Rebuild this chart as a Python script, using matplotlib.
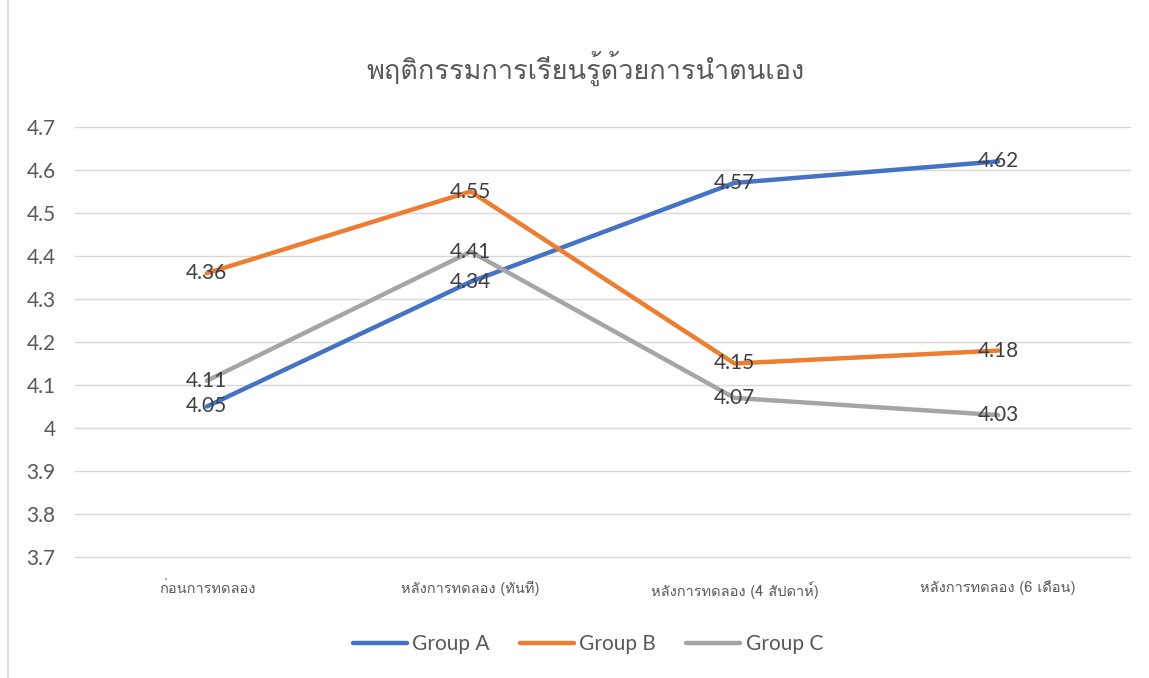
import matplotlib
matplotlib.use("Agg")
import matplotlib.pyplot as plt
from matplotlib import font_manager
from matplotlib.ft2font import FT2Font
from matplotlib.lines import Line2D

categories = ["ก่อนการทดลอง", "หลังการทดลอง (ทันที)", "หลังการทดลอง (4 สัปดาห์)", "หลังการทดลอง (6 เดือน)"]
group_a = [4.05, 4.34, 4.57, 4.62]
group_b = [4.36, 4.55, 4.15, 4.18]
group_c = [4.11, 4.41, 4.07, 4.03]
series_names = ["Group A", "Group B", "Group C"]
yticks = [3.7, 3.8, 3.9, 4.0, 4.1, 4.2, 4.3, 4.4, 4.5, 4.6, 4.7]
ytick_labels = ["3.7", "3.8", "3.9", "4", "4.1", "4.2", "4.3", "4.4", "4.5", "4.6", "4.7"]
title = "พฤติกรรมการเรียนรู้ด้วยการนำตนเอง"

# find a font with Thai glyphs
thai_family = None
for f in font_manager.fontManager.ttflist:
    try:
        ft = FT2Font(f.fname)
        if ft.get_char_index(0x0E01) and ft.get_char_index(0x0E32):
            thai_family = f.name
            break
    except Exception:
        pass
thai_fams = ([thai_family] if thai_family else []) + ["DejaVu Sans"]
num_fam = ["Lato", "DejaVu Sans"]

colors = ["#4472C4", "#ED7D31", "#A5A5A5"]
txt_col = "#595959"

fig = plt.figure(figsize=(11.49, 6.78), dpi=100)
ax = fig.add_axes([75/1149, 1-557/678, (1130-75)/1149, (557-127)/678])

x = list(range(len(categories)))
for vals, c, name in zip([group_a, group_b, group_c], colors, series_names):
    ax.plot(x, vals, color=c, lw=3.2, solid_capstyle="round", label=name, zorder=3)
for vals in [group_a, group_b, group_c]:
    for xi, v in zip(x, vals):
        ax.text(xi, v, f"{v:.2f}", ha="center", va="center", fontsize=15,
                color="#404040", family=num_fam, zorder=4)

ax.set_xlim(-0.5, len(categories) - 0.5)
ax.set_ylim(3.7, 4.7)
ax.set_yticks(yticks)
ax.set_yticklabels(ytick_labels, family=num_fam, fontsize=15, color=txt_col)
ax.set_xticks(x)
ax.set_xticklabels(categories, family=thai_fams, fontsize=10.5, color=txt_col)
ax.tick_params(axis="y", length=0, pad=14)
ax.tick_params(axis="x", length=0, pad=17)
ax.grid(axis="y", color="#D9D9D9", lw=1)
for gl in ax.get_ygridlines():
    gl.set_clip_on(False)
ax.set_axisbelow(True)
for s in ax.spines.values():
    s.set_visible(False)

fig.text(585/1149, 1-68/678, title, ha="center", va="center", fontsize=19.5,
         color=txt_col, family=thai_fams, fontweight="light")

handles = [Line2D([0], [0], color=c, lw=3.2, solid_capstyle="round") for c in colors]
leg = fig.legend(handles, series_names, loc="center", bbox_to_anchor=(588/1149, 1-644/678),
                 ncol=3, frameon=False, handlelength=2.6, handletextpad=0.25, columnspacing=1.45,
                 prop={"family": num_fam, "size": 15})
for t in leg.get_texts():
    t.set_color(txt_col)

fig.add_artist(Line2D([8/1149, 8/1149], [0, 1], transform=fig.transFigure, color="#D9D9D9", lw=1.2))

fig.savefig("out.png", dpi=100)
